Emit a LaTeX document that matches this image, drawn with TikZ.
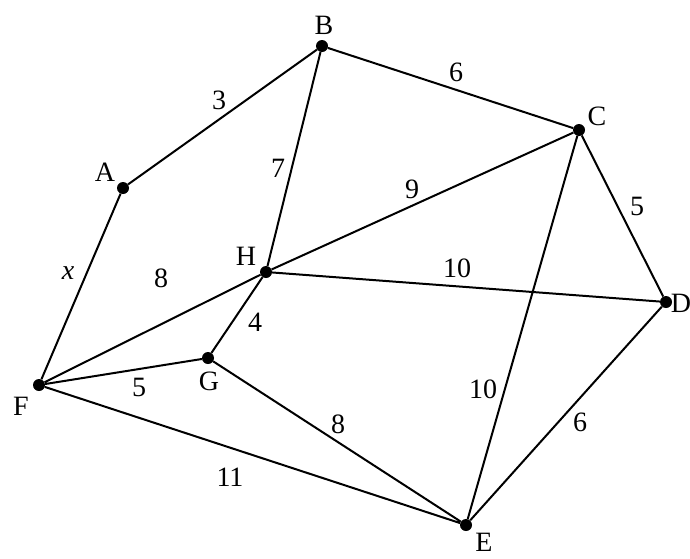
\documentclass[tikz,border=0pt]{standalone}
\usepackage{fontspec}
\setmainfont{Liberation Serif}
\begin{document}
\begin{tikzpicture}[x=1pt,y=-1pt,
  vtx/.style={circle,fill=black,inner sep=0pt,minimum size=12pt},
  lbl/.style={font=\fontsize{28}{30}\selectfont,inner sep=0pt},
  edge/.style={line width=2pt}]
\useasboundingbox[fill=white] (0,0) rectangle (690,558);
\node[vtx] (A) at (123,188) {};
\node[vtx] (B) at (322,46) {};
\node[vtx] (C) at (579,130) {};
\node[vtx] (D) at (666,302) {};
\node[vtx] (E) at (466,525) {};
\node[vtx] (F) at (39,385) {};
\node[vtx] (G) at (208,358) {};
\node[vtx] (H) at (266,272) {};
\node[lbl] (lA) at (105,172) {A};
\node[lbl] (lB) at (324,25) {B};
\node[lbl] (lC) at (597,116) {C};
\node[lbl] (lD) at (681,303) {D};
\node[lbl] (lE) at (484,542) {E};
\node[lbl] (lF) at (21,406) {F};
\node[lbl] (lG) at (209,381) {G};
\node[lbl] (lH) at (246,256) {H};
\draw[edge] (A) -- (B) (B) -- (C) (B) -- (H) (H) -- (C) (C) -- (D) (H) -- (D)
  (A) -- (F) (F) -- (H) (H) -- (G) (F) -- (G) (G) -- (E) (F) -- (E) (C) -- (E) (D) -- (E);
\node[lbl] (w1) at (219,100) {3};
\node[lbl] (w2) at (456,72) {6};
\node[lbl] (w3) at (278,168) {7};
\node[lbl] (w4) at (412,189) {9};
\node[lbl] (w5) at (637,206) {5};
\node[lbl] (w6) at (457,268) {10};
\node[lbl] (w7) at (68,273) {\itshape x};
\node[lbl] (w8) at (161,278) {8};
\node[lbl] (w9) at (255,322) {4};
\node[lbl] (w10) at (139,387) {5};
\node[lbl] (w11) at (338,424) {8};
\node[lbl] (w12) at (230,477) {11};
\node[lbl] (w13) at (483,389) {10};
\node[lbl] (w14) at (580,422) {6};
\end{tikzpicture}
\end{document}
